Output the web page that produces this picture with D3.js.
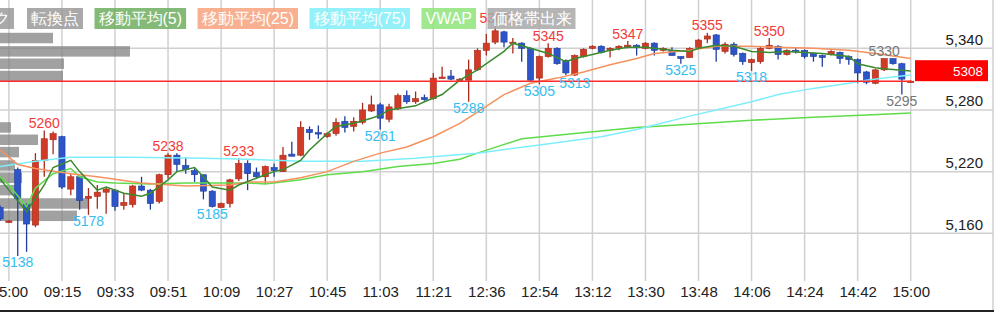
<!DOCTYPE html>
<meta charset="utf-8">
<script src="https://d3js.org/d3.v7.min.js"></script>
<style>
  body { margin: 0; background: #fff; }
  text { font-family: "Liberation Sans", Arial, sans-serif; }
</style>
<div id="chart"></div>
<script>

// 3-minute candles. index 0 = previous day 15:00, index 1 = 09:00 ... 102 = 15:00
var firstIdx = -1;
var opens  = [5185,5171,5222,5188,5168,5231,5251,5254,5203,5215,5194,5196,5200,5202,5187,5188,5206,5202,5191,5217,
              5236,5226,5221,5217,5201,5185,5189,5213,5228,5219,5215,5224,5220,5237,5236,5261,5258,5254,5257,5269,
              5264,5268,5279,5285,5271,5281,5294,5288,5292,5291,5311,5313,5309,5309,5319,5338,5346,5356,5345,5345,
              5340,5311,5332,5340,5328,5314,5332,5340,5342,5338,5340,5342,5343,5340,5345,5338,5338,5332,5331,5341,
              5349,5353,5337,5344,5335,5326,5327,5340,5342,5334,5338,5338,5335,5333,5334,5336,5332,5329,5317,5306,
              5319,5330,5325,5307];
var highs  = [5187,5173,5224,5189,5238,5260,5259,5255,5218,5216,5204,5207,5205,5203,5199,5207,5215,5203,5218,5238,
              5238,5234,5223,5217,5202,5190,5213,5233,5231,5224,5226,5228,5244,5249,5269,5264,5265,5258,5272,5274,
              5273,5287,5294,5287,5286,5296,5299,5298,5295,5316,5322,5319,5311,5329,5340,5354,5362,5357,5350,5346,
              5341,5333,5345,5341,5329,5334,5340,5343,5343,5341,5343,5347,5344,5346,5346,5341,5341,5332,5341,5349,
              5355,5354,5346,5346,5336,5330,5342,5350,5343,5339,5340,5339,5336,5334,5338,5337,5333,5330,5318,5320,
              5330,5330,5326,5309];
var lows   = [5172,5170,5138,5142,5166,5215,5237,5203,5197,5183,5178,5184,5179,5182,5183,5185,5201,5183,5189,5213,
              5220,5218,5210,5193,5185,5185,5185,5211,5202,5214,5208,5215,5220,5235,5235,5251,5252,5253,5255,5258,
              5259,5266,5278,5261,5268,5280,5286,5286,5289,5290,5311,5309,5309,5288,5318,5333,5344,5341,5335,5327,
              5308,5305,5331,5324,5314,5313,5331,5339,5335,5331,5338,5340,5333,5339,5333,5337,5333,5325,5331,5340,
              5345,5327,5335,5332,5324,5318,5325,5339,5329,5333,5335,5330,5327,5322,5333,5325,5324,5306,5305,5305,
              5318,5324,5295,5307];
var closes = [5174,5172,5194,5169,5231,5252,5257,5205,5215,5192,5196,5200,5203,5186,5190,5206,5202,5189,5217,5236,
              5227,5222,5217,5201,5186,5189,5212,5228,5218,5215,5225,5221,5236,5235,5263,5258,5257,5257,5268,5263,
              5269,5280,5285,5272,5283,5294,5288,5291,5290,5311,5312,5310,5310,5319,5338,5345,5357,5346,5346,5340,
              5309,5332,5340,5325,5316,5333,5339,5342,5336,5340,5342,5343,5341,5345,5338,5340,5333,5330,5340,5348,
              5352,5339,5344,5334,5327,5329,5340,5343,5334,5338,5337,5332,5332,5331,5337,5330,5329,5316,5307,5319,
              5330,5325,5310,5308];
var lastPrice = 5308;

// moving averages / VWAP: [candle index, price]
var ma5 = [[-1,5213],[0,5202],[2,5181],[4,5207],[5,5224],[7,5231],[8,5220],[10,5202],[11,5205],[13,5199],
           [15,5196],[16,5199],[18,5212],[19,5220],[21,5224],[22,5215],[23,5205],[25,5202],[26,5207],[29,5217],
           [30,5220],[31,5222],[33,5231],[34,5241],[36,5257],[37,5264],[39,5267],[41,5272],[42,5275],[43,5280],
           [46,5284],[47,5288],[49,5295],[51,5309],[53,5319],[56,5337],[57,5345],[59,5340],[61,5335],[63,5327],
           [64,5330],[66,5334],[68,5338],[70,5341],[72,5341],[75,5338],[77,5337],[78,5340],[80,5343],[82,5342],
           [84,5337],[86,5336],[88,5337],[90,5336],[92,5335],[95,5332],[96,5325],[98,5321],[99,5320],[102,5318]];
var ma25 = [[-1,5241],[1,5227],[3,5223],[7,5218],[10,5215],[15,5209],[20,5206],[25,5207],[27,5210],[30,5210],
            [33,5214],[36,5220],[39,5230],[42,5238],[45,5244],[48,5254],[51,5267],[53,5278],[56,5295],[59,5306],
            [62,5311],[65,5317],[68,5324],[71,5330],[73,5335],[77,5338],[80,5342],[84,5342],[87,5341],[91,5340],
            [95,5338],[98,5335],[102,5330]];
var ma75 = [[-1,5225],[3,5230],[7,5234],[14,5234],[22,5233],[27,5232],[33,5230],[40,5230],[46,5233],[50,5236],
            [53,5238],[60,5246],[67,5254],[71,5261],[77,5274],[80,5280],[84,5288],[87,5295],[91,5301],[95,5306],
            [97,5309],[99,5311],[102,5314]];
var vwap = [[-1,5215],[0,5207],[2,5186],[3,5204],[5,5218],[7,5223],[8,5215],[10,5210],[12,5209],[16,5208],
            [20,5209],[27,5209],[29,5208],[33,5212],[36,5217],[40,5220],[44,5225],[48,5228],[51,5232],[53,5238],
            [58,5252],[64,5257],[71,5263],[77,5266],[84,5270],[91,5273],[97,5275],[102,5277]];

// price-volume profile (bin centre, volume)
var profPrice = [5350,5337,5325,5313,5300,5288,5276,5263,5251,5239,5226,5214,5202,5189,5177];
var profVol   = [53,130,64,63,0,0,0,11,38,19,15,22,20,88,77];

// high / low annotations: [index, price]
var highMarks = [[4,5260],[18,5238],[26,5233],[55,5362],[61,5345],[70,5347],[79,5355],[86,5350]];
var lowMarks  = [[1,5138],[9,5178],[23,5185],[42,5261],[52,5288],[60,5305],[64,5313],[76,5325],[84,5318]];
var lastHigh  = [[99,5330]];
var lastLow   = [[101,5295]];

// axes
var tickIdx    = [0,6,12,18,24,30,36,42,48,54,60,66,72,78,84,90,96,102];
var tickLabels = ["15:00","09:15","09:33","09:51","10:09","10:27","10:45","11:03","11:21",
                  "12:36","12:54","13:12","13:30","13:48","14:06","14:24","14:42","15:00"];
var yTicks = [5160,5220,5280,5340];

var legendNames  = ["ク","転換点","移動平均(5)","移動平均(25)","移動平均(75)","VWAP","価格帯出来"];
var legendColors = ["#9a9a9a","#9a9a9a","#6fae5f","#f7a27c","#82eef8","#8ee47a","#a8a8a8"];

var W = 1000, H = 312;
var svg = d3.select("#chart").append("svg")
  .attr("width", W).attr("height", H);

var x = d3.scaleLinear().domain([0, 102]).range([8.9, 910.7]);
var y = d3.scaleLinear().domain([5160, 5340]).range([233.3, 48.3]);
var xv = d3.scaleLinear().domain([0, 130]).range([0, 130]);

// grid
svg.append("g").selectAll("line").data(tickIdx).join("line")
  .attr("x1", d => x(d)).attr("x2", d => x(d))
  .attr("y1", 0).attr("y2", 281)
  .attr("stroke", "#d0d0d0").attr("stroke-width", 1.5);
svg.append("g").selectAll("line").data(yTicks).join("line")
  .attr("x1", 0).attr("x2", 993)
  .attr("y1", d => y(d)).attr("y2", d => y(d))
  .attr("stroke", "#d0d0d0").attr("stroke-width", 1.5);
svg.append("line").attr("x1", 993).attr("x2", 993).attr("y1", 0).attr("y2", 311)
  .attr("stroke", "#cfcfcf").attr("stroke-width", 1.5);
svg.append("line").attr("x1", 0).attr("x2", 994).attr("y1", 311).attr("y2", 311)
  .attr("stroke", "#222").attr("stroke-width", 2);

// volume profile
svg.append("g").selectAll("rect").data(profPrice).join("rect")
  .attr("x", 0)
  .attr("y", d => y(d + 5.1))
  .attr("width", (d, i) => xv(profVol[i]))
  .attr("height", d => y(d - 5.1) - y(d + 5.1))
  .attr("fill", "rgba(125,125,125,0.72)");

// candles
var candles = opens.map(function(o, k) {
  return {i: firstIdx + k, o: o, h: highs[k], l: lows[k], c: closes[k]};
});
var up = "#cf3b27", upLine = "#a62a1b", dn = "#2d55c8", dnLine = "#1f3c9c";
var cg = svg.append("g");
cg.selectAll("line").data(candles).join("line")
  .attr("x1", d => x(d.i)).attr("x2", d => x(d.i))
  .attr("y1", d => y(d.h)).attr("y2", d => y(d.l))
  .attr("stroke", d => d.c >= d.o ? upLine : dnLine)
  .attr("stroke-width", 1.3);
cg.selectAll("rect").data(candles).join("rect")
  .attr("x", d => x(d.i) - 3.1)
  .attr("width", 6.2)
  .attr("y", d => y(Math.max(d.o, d.c)))
  .attr("height", d => Math.max(1.5, Math.abs(y(d.o) - y(d.c))))
  .attr("fill", d => d.c >= d.o ? up : dn)
  .attr("stroke", d => d.c >= d.o ? upLine : dnLine)
  .attr("stroke-width", 0.6);

// lines
var line = d3.line().x(d => x(d[0])).y(d => y(d[1]));
[[vwap, "#5fdc4a"], [ma75, "#7eeefc"], [ma25, "#f5925e"], [ma5, "#3a8a2e"]].forEach(function(s) {
  svg.append("path").datum(s[0]).attr("d", line)
    .attr("fill", "none").attr("stroke", s[1]).attr("stroke-width", 1.5);
});

// last price line + box
svg.append("line")
  .attr("x1", 0).attr("x2", 911)
  .attr("y1", y(lastPrice)).attr("y2", y(lastPrice))
  .attr("stroke", "#ff2b2b").attr("stroke-width", 1.5);
svg.append("rect")
  .attr("x", 915).attr("y", y(lastPrice) - 21)
  .attr("width", 73).attr("height", 21)
  .attr("fill", "#ff0000");
svg.append("text")
  .attr("x", 983).attr("y", y(lastPrice) - 5.5)
  .attr("text-anchor", "end").attr("font-size", 13.5).attr("fill", "#fff")
  .text(lastPrice);

// high / low labels
function marks(data, color, isHigh) {
  svg.append("g").selectAll("text").data(data).join("text")
    .attr("x", d => x(d[0]))
    .attr("y", d => isHigh ? y(d[1]) - 2.5 : y(d[1]) + 11.5)
    .attr("text-anchor", "middle")
    .attr("font-size", 14)
    .attr("fill", color)
    .text(d => d[1]);
}
marks(highMarks, "#f23a3a", true);
marks(lowMarks, "#36bdf0", false);
marks(lastHigh, "#777", true);
marks(lastLow, "#777", false);

// axes
var xAxis = svg.append("g")
  .attr("transform", "translate(0,292)")
  .call(d3.axisBottom(x).tickValues(tickIdx).tickFormat((d, i) => tickLabels[i]).tickSize(0).tickPadding(0));
xAxis.select(".domain").remove();
xAxis.selectAll("text").attr("dy", "0.36em").attr("font-size", 15).attr("fill", "#222")
  .attr("font-family", "Liberation Sans, Arial, sans-serif");

var yAxis = svg.append("g")
  .attr("transform", "translate(983,0)")
  .call(d3.axisLeft(y).tickValues(yTicks).tickFormat(d3.format(",")).tickSize(0).tickPadding(0));
yAxis.select(".domain").remove();
yAxis.selectAll("text").attr("dy", -4).attr("font-size", 15).attr("fill", "#222")
  .attr("font-family", "Liberation Sans, Arial, sans-serif");

// legend
var lg = svg.append("g");
var lx = 14;
legendNames.forEach(function(name, i) {
  var g = lg.append("g");
  var t = g.append("text")
    .attr("y", 24)
    .attr("font-family", "Liberation Sans, Noto Sans CJK JP, sans-serif")
    .attr("font-size", 16)
    .attr("fill", "#fff")
    .text(name);
  var w = t.node().getComputedTextLength();
  var bw = w + 8;
  var bx = i === 0 ? lx - bw : lx;
  g.insert("rect", "text")
    .attr("x", bx).attr("y", 8).attr("width", bw).attr("height", 21)
    .attr("fill", legendColors[i]).attr("opacity", 0.85);
  t.attr("x", bx + 4);
  lx = (i === 0 ? 27 : bx + bw + 11.5);
});

</script>
